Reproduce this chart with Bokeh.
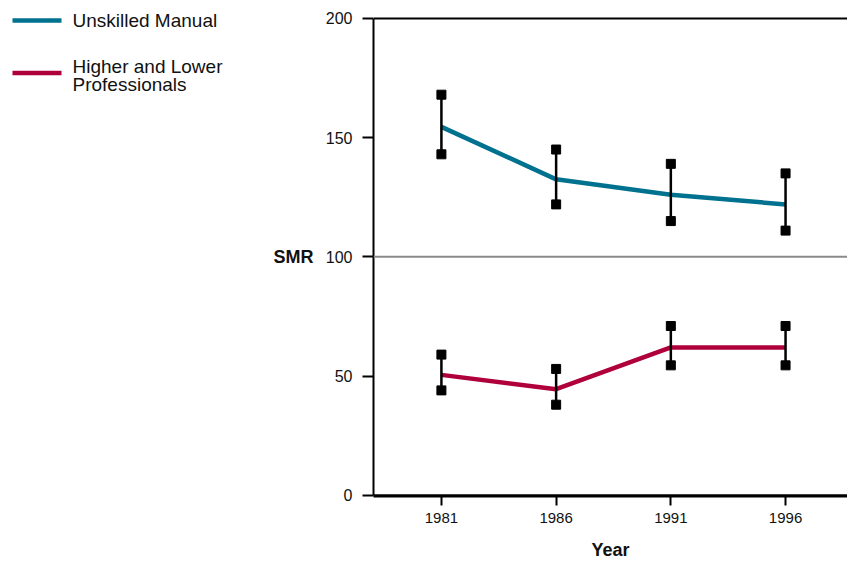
from bokeh.plotting import figure
from bokeh.layouts import row
from bokeh.models import Range1d, FixedTicker, Span
from bokeh.core.properties import value
from bokeh.embed import file_html
from bokeh.resources import INLINE

# Standardised mortality ratios by social class
years = [1981, 1986, 1991, 1996]

manual_smr = [154.5, 132.5, 126, 122]
manual_low = [143, 122, 115, 111]
manual_high = [168, 145, 139, 135]

prof_smr = [50.5, 44.5, 62, 62]
prof_low = [44, 38, 54.5, 54.5]
prof_high = [59, 53, 71, 71]

legend_lines = ["Unskilled Manual", "Higher and Lower", "Professionals"]
y_ticks = [0, 50, 100, 150, 200]
y_title = "SMR"
x_title = "Year"

BLUE = "#00718f"
RED = "#b0003c"
FONT = "Liberation Sans"

BOTTOM = 63
HEIGHT = 562
SIDE_W = 320
X_START, X_END = 1978.04, 1998.7
Y_START, Y_END = -0.5, 207.5

# ---- side panel: legend and the y title; data units equal canvas pixels ----
side = figure(width=SIDE_W, height=HEIGHT, x_range=Range1d(0, SIDE_W),
              y_range=Range1d(HEIGHT - BOTTOM, 0),
              x_axis_type=None, y_axis_type=None, toolbar_location=None,
              output_backend="svg", min_border=0, min_border_bottom=BOTTOM,
              outline_line_color=None)
side.grid.visible = False
side.segment(x0=[12, 12], y0=[20, 73], x1=[61, 61], y1=[20, 73],
             line_color=[BLUE, RED], line_width=4.5)
side.text(x=[72, 72, 72], y=[20, 66, 85], text=legend_lines,
          text_font=value(FONT), text_font_size="19px", text_color="#111111",
          text_baseline="middle", text_align="left")
side.text(x=[313], y=[258], text=[y_title], text_font=value(FONT),
          text_font_size="18px", text_font_style="bold", text_color="#111111",
          text_baseline="middle", text_align="right")

# ---- main chart (frame reaches the top edge; axis stops at 200) ----
p = figure(width=847 - SIDE_W, height=HEIGHT, x_range=Range1d(X_START, X_END),
           y_range=Range1d(Y_START, Y_END),
           toolbar_location=None, output_backend="svg",
           min_border_left=373 - SIDE_W, min_border_right=0, min_border_top=0,
           min_border_bottom=BOTTOM, outline_line_color=None)
p.grid.visible = False

# reference line at SMR 100, top rule at 200 and the baseline at 0
p.add_layout(Span(location=100, dimension="width", line_color="#8a8a8a", line_width=2))
p.add_layout(Span(location=200, dimension="width", line_color="black", line_width=2))
p.add_layout(Span(location=0, dimension="width", line_color="black", line_width=2))

p.line(years, manual_smr, line_color=BLUE, line_width=4.5)
p.line(years, prof_smr, line_color=RED, line_width=4.5)

for low, high in ((manual_low, manual_high), (prof_low, prof_high)):
    p.segment(x0=years, y0=low, x1=years, y1=high, line_color="black", line_width=2.5)
    p.scatter(years, low, marker="square", size=9, fill_color="black", line_color="black")
    p.scatter(years, high, marker="square", size=9, fill_color="black", line_color="black")

xa = p.xaxis[0]
xa.ticker = FixedTicker(ticks=years)
xa.axis_label = x_title
ya = p.yaxis[0]
ya.ticker = FixedTicker(ticks=y_ticks)
ya.bounds = (0, 200)

for ax in (xa, ya):
    ax.axis_line_color = "black"
    ax.axis_line_width = 2
    ax.major_tick_line_width = 2
    ax.major_tick_line_color = "black"
    ax.major_tick_in = 0
    ax.minor_tick_line_color = None
    ax.major_label_text_font = FONT
    ax.major_label_text_color = "#111111"
    ax.axis_label_text_font = FONT
    ax.axis_label_text_font_size = "18px"
    ax.axis_label_text_font_style = "bold"
    ax.axis_label_text_color = "#111111"

xa.major_label_text_font_size = "15px"
ya.major_label_text_font_size = "16px"
xa.major_tick_out = 9
xa.major_label_standoff = 7
xa.axis_label_standoff = 14
ya.major_tick_out = 11
ya.major_label_standoff = 10

layout = row(side, p)
open("out.html", "w").write(file_html(layout, INLINE))
